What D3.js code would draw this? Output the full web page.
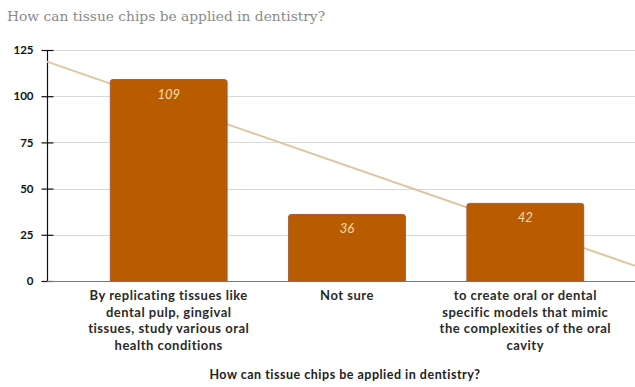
<!DOCTYPE html>
<html>
<head>
<meta charset="utf-8">
<script src="https://cdn.jsdelivr.net/npm/d3@7"></script>
<style>
  html, body { margin: 0; padding: 0; background: #fff; }
  svg { display: block; }
</style>
</head>
<body>
<svg id="chart" width="635" height="387"></svg>
<script>
// Survey answers and their counts
const categories = [
  ["By replicating tissues like", "dental pulp, gingival", "tissues, study various oral", "health conditions"],
  ["Not sure"],
  ["to create oral or dental", "specific models that mimic", "the complexities of the oral", "cavity"]
];
const counts = [109, 36, 42];
const yTicks = [0, 25, 50, 75, 100, 125];
const chartTitle = "How can tissue chips be applied in dentistry?";
const axisTitle = "How can tissue chips be applied in dentistry?";

const svg = d3.select("#chart");
const axisX = 47;
const plotRight = 635;
const plotTop = 50, plotBottom = 281;

const idx = counts.map((d, i) => i);
const x = d3.scaleBand().domain(idx).range([80, 614]).paddingInner(0.345).paddingOuter(0.17);
const y = d3.scaleLinear().domain([0, 125]).range([plotBottom, plotTop]);

// chart title
svg.append("text")
  .attr("x", 7).attr("y", 21)
  .attr("font-family", "DejaVu Serif, serif")
  .attr("font-size", 13.8)
  .attr("fill", "#8a8a8a")
  .text(chartTitle);

// horizontal gridlines
svg.append("g").selectAll("line").data(yTicks.filter(t => t > 0)).join("line")
  .attr("x1", axisX).attr("x2", plotRight)
  .attr("y1", d => Math.round(y(d)) + 0.5).attr("y2", d => Math.round(y(d)) + 0.5)
  .attr("stroke", "#d9d9d9").attr("stroke-width", 1);

// y axis
const yAxis = d3.axisLeft(y).tickValues(yTicks).tickSize(0).tickPadding(14);
const gy = svg.append("g").attr("transform", `translate(${axisX + 0.5},0)`).call(yAxis);
gy.select(".domain").remove();
gy.selectAll("text")
  .attr("font-family", "Lato, sans-serif")
  .attr("font-size", 11.5)
  .attr("font-weight", "bold")
  .attr("fill", "#111");
gy.selectAll(".tick").append("line")
  .attr("x1", -6).attr("x2", 6).attr("stroke", "#111").attr("stroke-width", 1.2);
gy.append("line").attr("y1", y(125)).attr("y2", y(0)).attr("stroke", "#111").attr("stroke-width", 1.2);

// linear trendline over category positions 1..n (drawn under the bars)
const xs = idx.map(i => i + 1);
const mx = d3.mean(xs), my = d3.mean(counts);
const slope = d3.sum(xs, (v, k) => (v - mx) * (counts[k] - my)) / d3.sum(xs, v => (v - mx) ** 2);
const icpt = my - slope * mx;
const step = x.step();
const firstCenter = x(0) + x.bandwidth() / 2;
const kAt = px => 1 + (px - firstCenter) / step;
const trendPts = [axisX, plotRight].map(px => [px, y(icpt + slope * kAt(px))]);
svg.append("path")
  .attr("d", d3.line()(trendPts))
  .attr("stroke", "#dcc6a3")
  .attr("stroke-width", 2)
  .attr("fill", "none");

// bars
const barPath = (i, v) => {
  const x0 = x(i), x1 = x(i) + x.bandwidth(), y0 = y(v), y1 = y(0), r = 2.5;
  return `M${x0},${y1}V${y0 + r}Q${x0},${y0} ${x0 + r},${y0}H${x1 - r}Q${x1},${y0} ${x1},${y0 + r}V${y1}Z`;
};
svg.append("g").selectAll("path").data(idx).join("path")
  .attr("d", i => barPath(i, counts[i]))
  .attr("fill", "#b95c00")
  .attr("stroke", "#a65a3a")
  .attr("stroke-width", 1);

// x baseline
svg.append("line")
  .attr("x1", axisX).attr("x2", plotRight)
  .attr("y1", plotBottom + 0.5).attr("y2", plotBottom + 0.5)
  .attr("stroke", "#777").attr("stroke-width", 1.2);

// value labels
svg.append("g").selectAll("text").data(idx).join("text")
  .attr("x", i => x(i) + x.bandwidth() / 2)
  .attr("y", i => y(counts[i]) + 19)
  .attr("text-anchor", "middle")
  .attr("font-family", "Lato, sans-serif")
  .attr("font-style", "italic")
  .attr("font-size", 13)
  .attr("fill", "#f7dcae")
  .text(i => counts[i]);

// category labels
const cat = svg.append("g").selectAll("text").data(idx).join("text")
  .attr("text-anchor", "middle")
  .attr("font-family", "Lato, sans-serif")
  .attr("font-weight", "bold")
  .attr("font-size", 13)
  .attr("letter-spacing", 0.5)
  .attr("fill", "#2a2a2a");
cat.each(function(i) {
  const t = d3.select(this);
  categories[i].forEach((line, j) => {
    t.append("tspan")
      .attr("x", x(i) + x.bandwidth() / 2)
      .attr("y", 300 + j * 16.5)
      .text(line);
  });
});

// axis title
svg.append("text")
  .attr("x", 345).attr("y", 379)
  .attr("text-anchor", "middle")
  .attr("font-family", "Lato, sans-serif")
  .attr("font-weight", "bold")
  .attr("font-size", 12.5)
  .attr("letter-spacing", 0.5)
  .attr("fill", "#222")
  .text(axisTitle);
</script>
</body>
</html>
